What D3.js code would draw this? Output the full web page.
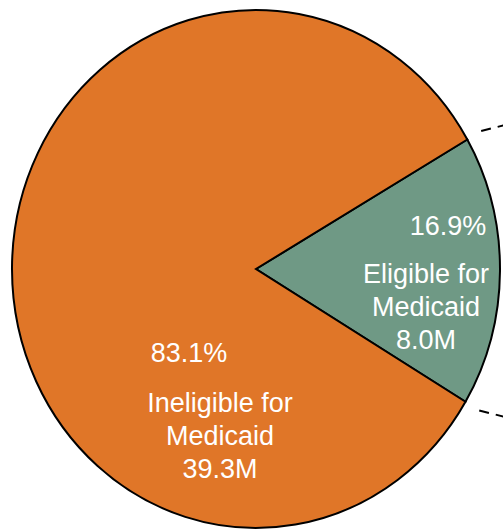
<!DOCTYPE html>
<html>
<head>
<meta charset="utf-8">
<script src="https://cdn.jsdelivr.net/npm/d3@7"></script>
<style>
  html, body { margin: 0; padding: 0; background: #fff; }
  svg { display: block; }
  text { font-family: "Liberation Sans", Arial, sans-serif; fill: #fff; }
</style>
</head>
<body>
<svg id="chart" width="503" height="530"></svg>
<script>
// ---- data ----
const categories = ["Eligible for Medicaid", "Ineligible for Medicaid"];
const shares = [16.9, 83.1];
const counts = ["8.0M", "39.3M"];
const pctLabels = ["16.9%", "83.1%"];
const nameLines = [["Eligible for", "Medicaid"], ["Ineligible for", "Medicaid"]];
const colors = ["#6F9985", "#E07628"];

// ---- layout ----
const W = 503, H = 530;
const cx = 256, cy = 269;
const rx = 244, ry = 259;
const startDeg = 60; // green slice starts here (clockwise from 12 o'clock)

const svg = d3.select("#chart");

const pie = d3.pie().sort(null).value(d => d)
  .startAngle(startDeg * Math.PI / 180)
  .endAngle((startDeg + 360) * Math.PI / 180);
const arcs = pie(shares);
const arc = d3.arc().innerRadius(0).outerRadius(rx);

const g = svg.append("g")
  .attr("transform", `translate(${cx},${cy}) scale(1,${ry / rx})`);

g.selectAll("path")
  .data(arcs)
  .join("path")
  .attr("d", arc)
  .attr("fill", (d, i) => colors[i])
  .attr("stroke", "#000")
  .attr("stroke-width", 2)
  .attr("stroke-linejoin", "miter")
  .attr("vector-effect", "non-scaling-stroke");

// leader (dashed) lines toward off-chart breakdown
function edgePoint(angle, r) {
  return [cx + r * Math.sin(angle), cy - r * (ry / rx) * Math.cos(angle)];
}
const green = arcs[0];
const p1 = edgePoint(green.startAngle, rx + 16);
const p2 = edgePoint(green.endAngle, rx + 16);
const leaders = [
  [p1, [W + 10, p1[1] - 0.25 * (W + 10 - p1[0])]],
  [p2, [W + 10, p2[1] + 0.25 * (W + 10 - p2[0])]]
];
svg.selectAll("line.leader")
  .data(leaders)
  .join("line")
  .attr("class", "leader")
  .attr("x1", d => d[0][0]).attr("y1", d => d[0][1])
  .attr("x2", d => d[1][0]).attr("y2", d => d[1][1])
  .attr("stroke", "#000")
  .attr("stroke-width", 2)
  .attr("stroke-dasharray", "10,7");

// ---- labels ----
const fs = 27, lh = 33;
const labelPos = [
  { pctX: 448, pctY: 235, x: 426, y: 283 },
  { pctX: 189, pctY: 362, x: 220, y: 412 }
];
arcs.forEach((a, i) => {
  const p = labelPos[i];
  svg.append("text")
    .attr("x", p.pctX).attr("y", p.pctY)
    .attr("text-anchor", "middle")
    .attr("font-size", fs)
    .text(pctLabels[i]);
  const lines = nameLines[i].concat([counts[i]]);
  svg.append("g").selectAll("text")
    .data(lines)
    .join("text")
    .attr("x", p.x)
    .attr("y", (d, j) => p.y + j * lh)
    .attr("text-anchor", "middle")
    .attr("font-size", fs)
    .text(d => d);
});
</script>
</body>
</html>
